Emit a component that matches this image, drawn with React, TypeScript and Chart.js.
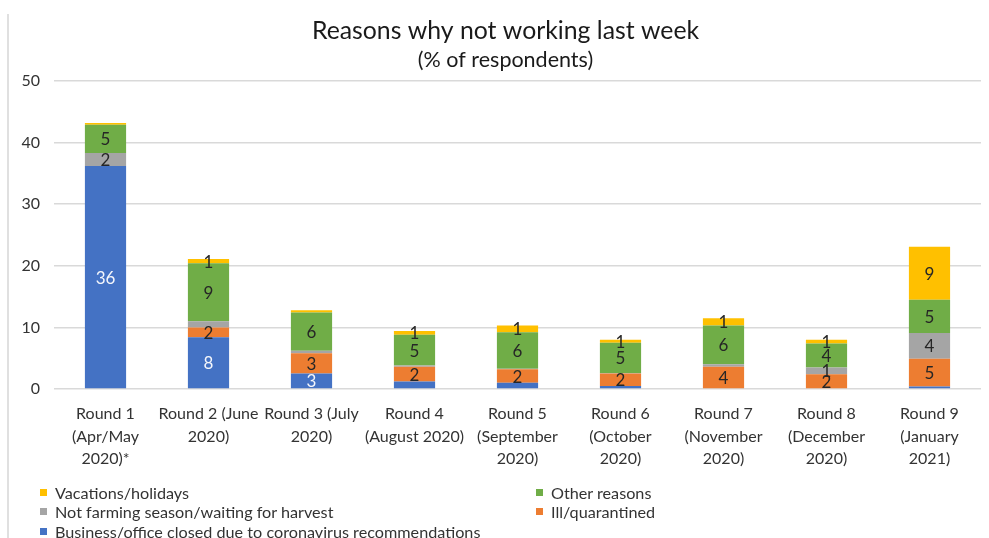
import React, { useEffect, useRef } from "react";
import { Chart, registerables } from "chart.js";

Chart.register(...registerables);

// Survey rounds (x categories), each label split over lines
const rounds: string[][] = [
  ["Round 1", "(Apr/May", "2020)*"],
  ["Round 2 (June", "2020)"],
  ["Round 3 (July", "2020)"],
  ["Round 4", "(August 2020)"],
  ["Round 5", "(September", "2020)"],
  ["Round 6", "(October", "2020)"],
  ["Round 7", "(November", "2020)"],
  ["Round 8", "(December", "2020)"],
  ["Round 9", "(January", "2021)"],
];

// % of respondents per reason, stacked bottom to top
const businessClosed = [36.2, 8.4, 2.5, 1.2, 1.0, 0.5, 0, 0, 0.4];
const illQuarantined = [0, 1.6, 3.3, 2.4, 2.2, 2.0, 3.6, 2.4, 4.5];
const notFarmingSeason = [2.1, 1.0, 0.4, 0.2, 0.1, 0.1, 0.4, 1.1, 4.2];
const otherReasons = [4.6, 9.4, 6.2, 5.0, 5.9, 4.9, 6.3, 3.9, 5.4];
const vacations = [0.3, 0.7, 0.4, 0.6, 1.1, 0.5, 1.2, 0.6, 8.6];

// Which segments carry a value label
const businessShown = [1, 1, 1, 0, 0, 0, 0, 0, 0];
const illShown = [0, 1, 1, 1, 1, 1, 1, 1, 1];
const notFarmingShown = [1, 0, 0, 0, 0, 0, 0, 1, 1];
const otherShown = [1, 1, 1, 1, 1, 1, 1, 1, 1];
const vacationsShown = [0, 1, 0, 1, 1, 1, 1, 1, 1];

const yTicks = [0, 10, 20, 30, 40, 50];

const TITLE = "Reasons why not working last week";
const SUBTITLE = "(% of respondents)";

const FONT = "Lato, 'Open Sans', sans-serif";
const TEXT = "#333333";

const series = [
  { label: "Business/office closed due to coronavirus recommendations", data: businessClosed, shown: businessShown, color: "#4472C4", labelColor: "#f4f6fb" },
  { label: "Ill/quarantined", data: illQuarantined, shown: illShown, color: "#ED7D31", labelColor: "#262626" },
  { label: "Not farming season/waiting for harvest", data: notFarmingSeason, shown: notFarmingShown, color: "#A5A5A5", labelColor: "#262626" },
  { label: "Other reasons", data: otherReasons, shown: otherShown, color: "#70AD47", labelColor: "#262626" },
  { label: "Vacations/holidays", data: vacations, shown: vacationsShown, color: "#FFC000", labelColor: "#262626" },
];

// Writes the rounded value in the middle of each flagged segment
const segmentLabels = {
  id: "segmentLabels",
  afterDatasetsDraw(chart: any) {
    const ctx = chart.ctx;
    ctx.save();
    ctx.font = `17px ${FONT}`;
    ctx.textAlign = "center";
    ctx.textBaseline = "middle";
    chart.data.datasets.forEach((ds: any, di: number) => {
      const meta = chart.getDatasetMeta(di);
      meta.data.forEach((bar: any, i: number) => {
        if (!ds.shown[i]) return;
        const v = ds.data[i];
        ctx.fillStyle = ds.labelColor;
        ctx.fillText(String(Math.round(v)), bar.x, (bar.y + bar.base) / 2 + 1);
      });
    });
    ctx.restore();
  },
};

// Two-line heading centred over the plot
const heading = {
  id: "heading",
  afterDraw(chart: any) {
    const ctx = chart.ctx;
    const cx = (chart.chartArea.left + chart.chartArea.right) / 2 - 12;
    ctx.save();
    ctx.fillStyle = "#1a1a1a";
    ctx.textAlign = "center";
    ctx.textBaseline = "alphabetic";
    ctx.font = `24.8px ${FONT}`;
    ctx.fillText(TITLE, cx, 38.5);
    ctx.font = `21.5px ${FONT}`;
    ctx.fillText(SUBTITLE, cx, 67);
    ctx.restore();
  },
};

export default function App() {
  const ref = useRef<HTMLCanvasElement | null>(null);

  useEffect(() => {
    if (!ref.current) return;
    const chart = new Chart(ref.current, {
      type: "bar",
      data: {
        labels: rounds,
        datasets: series.map((s) => ({
          label: s.label,
          data: s.data,
          backgroundColor: s.color,
          borderWidth: 0,
          barPercentage: 0.8,
          categoryPercentage: 0.5,
          shown: s.shown,
          labelColor: s.labelColor,
        })) as any,
      },
      options: {
        responsive: false,
        animation: false,
        layout: { padding: { left: 8, right: 8, top: 81, bottom: 59 } },
        plugins: {
          legend: { display: false },
          tooltip: { enabled: false },
          title: { display: false },
        },
        scales: {
          x: {
            stacked: true,
            grid: { display: false },
            border: { display: false },
            ticks: {
              color: TEXT,
              font: { family: FONT, size: 16, lineHeight: "22.3px" },
              padding: 6,
              maxRotation: 0,
              autoSkip: false,
            },
            afterFit: (s: any) => {
              s.height = 90;
            },
          },
          y: {
            stacked: true,
            min: 0,
            max: 50,
            afterBuildTicks: (s: any) => {
              s.ticks = yTicks.map((v) => ({ value: v }));
            },
            grid: { color: "#d9d9d9", lineWidth: 1.5, drawTicks: false },
            border: { display: false },
            ticks: {
              color: TEXT,
              font: { family: FONT, size: 16 },
              padding: 14,
            },
            afterFit: (s: any) => {
              s.width = 46;
            },
          },
        },
      },
      plugins: [segmentLabels, heading],
    });
    return () => chart.destroy();
  }, []);

  // Legend in two columns, reading order mirrors the stack top-down
  const legendItems = [...series].reverse();

  return (
    <div style={{ position: "fixed", left: 0, top: 0, width: 989, height: 538, background: "#fff", overflow: "hidden" }}>
      <canvas ref={ref} width={989} height={538} style={{ position: "absolute", left: 0, top: 0 }} />
      <div style={{ position: "absolute", left: 7, top: 14, width: 2, height: 524, background: "#e0e0e0" }} />
      {legendItems.map((s, i) => {
        const col = i % 2;
        const row = Math.floor(i / 2);
        return (
          <div
            key={s.label}
            style={{
              position: "absolute",
              left: col === 0 ? 40 : 536,
              top: 492 + row * 19.5 - 10,
              height: 20,
              display: "flex",
              alignItems: "center",
              whiteSpace: "nowrap",
              fontFamily: FONT,
              fontSize: 16.2,
              color: TEXT,
            }}
          >
            <span style={{ display: "inline-block", width: 7, height: 7, background: s.color, marginRight: 8 }} />
            <span>{s.label}</span>
          </div>
        );
      })}
    </div>
  );
}
